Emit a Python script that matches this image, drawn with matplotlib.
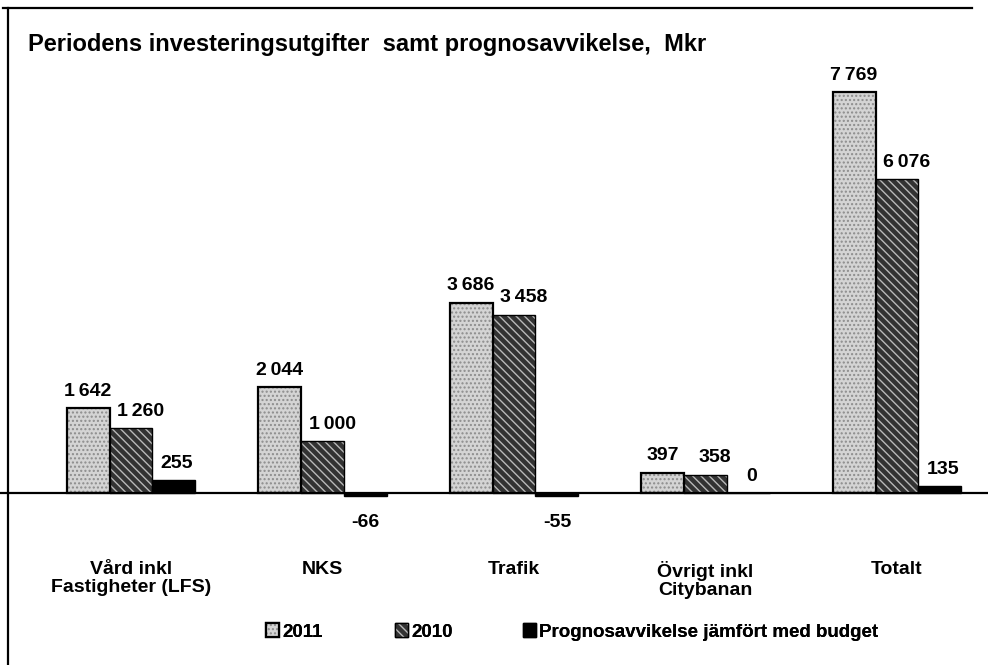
import matplotlib
matplotlib.use("Agg")
import matplotlib.pyplot as plt
from matplotlib.lines import Line2D
import numpy as np

plt.rcParams['font.family'] = ['Liberation Sans', 'DejaVu Sans']
plt.rcParams['hatch.linewidth'] = 1.0

categories = ["Vård inkl\nFastigheter (LFS)", "NKS", "Trafik", "Övrigt inkl\nCitybanan", "Totalt"]
series_names = ["2011", "2010", "Prognosavvikelse jämfört med budget"]
values_2011 = [1642, 2044, 3686, 397, 7769]
values_2010 = [1260, 1000, 3458, 358, 6076]
values_prog = [255, -66, -55, 0, 135]
title = "Periodens investeringsutgifter  samt prognosavvikelse,  Mkr"

W, H = 988, 665
fig = plt.figure(figsize=(W / 100, H / 100), dpi=100)
ax_bottom_px, ax_top_px = 540, 30
ax = fig.add_axes([0, 1 - ax_bottom_px / H, 1, (ax_bottom_px - ax_top_px) / H])

x = np.arange(len(categories))
bw = 0.2245
px_per_unit = 191.5
c0 = 131
ax.set_xlim(-c0 / px_per_unit, (W - c0) / px_per_unit)
zero_px = 493
scale = (493 - 92) / 7769.0
ax.set_ylim(-(ax_bottom_px - zero_px) / scale, (zero_px - ax_top_px) / scale)

b1 = ax.bar(x - bw, values_2011, bw, color="#d4d4d4", edgecolor="black", linewidth=1.6,
            hatch="....", label=series_names[0], zorder=2)
b2 = ax.bar(x, values_2010, bw, color="#333333", edgecolor="black", linewidth=1.0,
            hatch="\\\\\\\\", label=series_names[1], zorder=2)
b3 = ax.bar(x + bw, values_prog, bw, color="black", edgecolor="black", linewidth=1.0,
            label=series_names[2], zorder=2)
for p in b1:
    p._hatch_color = (0.55, 0.55, 0.55, 1)
for p in b2:
    p._hatch_color = (0.72, 0.72, 0.72, 1)

ax.axhline(0, color="black", linewidth=1.6, zorder=3)

def fmt(v):
    return f"{v:,}".replace(",", "\u2009")

offsets = {0: 0, 1: 7, 2: 2}
for si, (bars, vals) in enumerate(((b1, values_2011), (b2, values_2010), (b3, values_prog))):
    for p, v in zip(bars, vals):
        cx = p.get_x() + p.get_width() / 2
        if v >= 0:
            ax.annotate(fmt(v), (cx, v), xytext=(offsets[si], 6), textcoords="offset points",
                        ha="center", va="bottom", fontsize=14, fontweight="bold")
        else:
            ax.annotate(fmt(v), (cx, 0), xytext=(0, -15), textcoords="offset points",
                        ha="center", va="top", fontsize=14, fontweight="bold")

ax.set_xticks(x)
ax.set_xticklabels(categories, fontsize=14, fontweight="bold", linespacing=1.12)
ax.tick_params(axis="x", length=0, pad=15)
ax.set_yticks([])
for s in ax.spines.values():
    s.set_visible(False)

fig.text(28 / W, 1 - 51 / H, title, fontsize=17, fontweight="bold", va="baseline", ha="left")

leg_x = [266, 395, 523]
for h, lab, lx in zip((b1, b2, b3), series_names, leg_x):
    lg = fig.legend(handles=[h], labels=[lab], loc="center left",
                    bbox_to_anchor=(lx / W, 1 - 632 / H), frameon=False, borderpad=0,
                    borderaxespad=0, prop={"weight": "bold", "size": 13.5},
                    handlelength=0.7, handleheight=0.7, handletextpad=0.15)
    fig.add_artist(lg)

fig.add_artist(Line2D([3 / W, 972 / W], [1 - 8 / H, 1 - 8 / H], color="black", linewidth=1.6,
                      transform=fig.transFigure))
fig.add_artist(Line2D([8 / W, 8 / W], [1 - 8 / H, 0], color="black", linewidth=1.6,
                      transform=fig.transFigure))

fig.savefig("out.png", dpi=100, facecolor="white")
